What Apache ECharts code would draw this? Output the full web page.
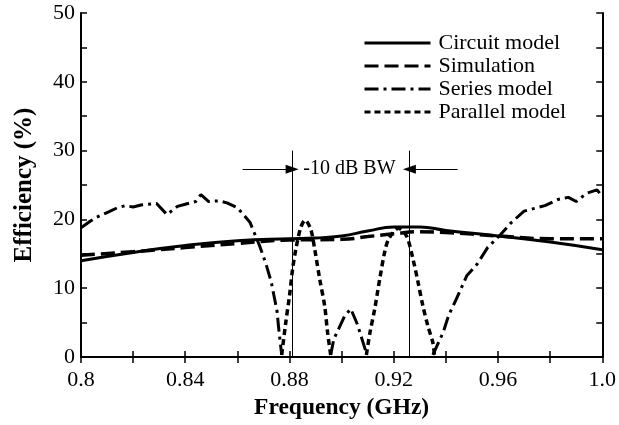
<!DOCTYPE html>
<html>
<head>
<meta charset="utf-8">
<script src="https://cdn.jsdelivr.net/npm/echarts@6/dist/echarts.min.js"></script>
<style>html,body{margin:0;padding:0;background:#fff}#c{width:619px;height:425px}</style>
</head>
<body>
<div id="c"></div>
<script>
// ---- data ----
const seriesNames = ['Circuit model', 'Simulation', 'Series model', 'Parallel model'];

const circuitFreq = [0.80, 0.82, 0.84, 0.86, 0.88, 0.89, 0.90, 0.91, 0.92, 0.93, 0.94, 0.96, 0.98, 1.00];
const circuitEff  = [14.0, 15.2, 16.2, 16.9, 17.2, 17.3, 17.6, 18.3, 18.9, 18.9, 18.4, 17.6, 16.7, 15.6];

const simFreq = [0.80, 0.82, 0.84, 0.86, 0.88, 0.90, 0.91, 0.92, 0.93, 0.94, 0.96, 0.98, 1.00];
const simEff  = [14.8, 15.3, 15.9, 16.5, 17.0, 17.1, 17.5, 17.9, 18.2, 18.1, 17.6, 17.2, 17.2];

const seriesFreq = [0.800, 0.803, 0.806, 0.810, 0.814, 0.817, 0.820, 0.823, 0.829, 0.833, 0.837, 0.840,
  0.844, 0.846, 0.849, 0.853, 0.856, 0.860, 0.8648, 0.8686, 0.871, 0.873, 0.8752, 0.8759, 0.877,
  0.886,
  0.8958, 0.897, 0.9012, 0.9035, 0.906, 0.9097,
  0.922,
  0.935, 0.939, 0.941, 0.944, 0.948, 0.952, 0.956, 0.961, 0.965, 0.970, 0.974, 0.978, 0.983, 0.987,
  0.990, 0.994, 0.998, 1.000];
const seriesEff = [18.8, 19.6, 20.3, 21.0, 21.7, 22.0, 21.8, 22.1, 22.3, 20.7, 21.9, 22.2,
  22.6, 23.6, 22.6, 22.7, 22.4, 21.7, 19.6, 16.1, 13.5, 10.9, 6.7, 4.0, 0.3,
  null,
  0.3, 2.6, 6.0, 7.0, 4.8, 0.3,
  null,
  0.3, 3.6, 6.0, 8.4, 11.8, 13.5, 15.9, 17.8, 19.5, 21.2, 21.6, 22.0, 22.9, 23.2,
  22.6, 23.8, 24.3, 23.3];

const parFreq = [0.8770, 0.8786, 0.8800, 0.8812, 0.8824, 0.8843, 0.8860, 0.8882, 0.8897, 0.8916, 0.8935, 0.8946, 0.8958,
  0.903,
  0.9095, 0.9109, 0.9127, 0.9146, 0.9165, 0.9180, 0.9218, 0.9249, 0.9274, 0.9293, 0.9312, 0.9331, 0.9350, 0.9356];
const parEff = [0.3, 5.1, 8.9, 12.8, 15.6, 18.8, 19.9, 18.5, 15.6, 11.3, 7.4, 3.6, 0.3,
  null,
  0.3, 3.6, 7.0, 11.3, 15.2, 17.1, 18.7, 17.6, 14.2, 10.9, 7.4, 4.5, 2.1, 0.3];

const xTickLabels = ['0.8', '0.84', '0.88', '0.92', '0.96', '1.0'];
const yTickLabels = ['0', '10', '20', '30', '40', '50'];

// -10 dB bandwidth annotation (data coordinates)
const bwEdges = [0.881, 0.926];
const bwLineTop = 30;
const bwArrowY = 27.3;
const bwArrowStart = [0.862, 0.9445];
const bwLabel = '-10 dB BW';
const bwLabelPos = [0.9030, 27.4];

// ---- chart ----
function pairs(xs, ys) { return xs.map((x, i) => [x, ys[i] === null ? '-' : ys[i]]); }

const serif = 'Liberation Serif';
const chart = echarts.init(document.getElementById('c'), null, { renderer: 'canvas' });

const axisLine = { show: true, lineStyle: { color: '#000', width: 2 } };
const axisTick = { show: true, inside: true, length: 6, lineStyle: { color: '#000', width: 1.5 } };

const option = {
  animation: false,
  backgroundColor: '#fff',
  grid: { left: 81, right: 11, top: 13, bottom: 67, containLabel: false },
  legend: {
    orient: 'vertical',
    left: 363, top: 32, padding: 0,
    itemWidth: 66, itemHeight: 14, itemGap: 1,
    itemStyle: { opacity: 0 },
    lineStyle: { width: 3 },
    textStyle: { fontFamily: serif, fontSize: 22, color: '#000', lineHeight: 22, padding: [0, 0, 0, 3] },
    data: seriesNames.map(n => ({ name: n }))
  },
  xAxis: [{
    type: 'value', min: 0.8, max: 1.0, interval: 0.02, position: 'bottom',
    axisLine, axisTick, splitLine: { show: false },
    axisLabel: {
      fontFamily: serif, fontSize: 22, color: '#000', margin: 12,
      formatter: v => {
        const k = Math.round((v - 0.8) / 0.04 * 1000) / 1000;
        return Number.isInteger(k) ? xTickLabels[k] : '';
      }
    },
    name: 'Frequency (GHz)', nameLocation: 'middle', nameGap: 39,
    nameTextStyle: { fontFamily: serif, fontSize: 23.5, fontWeight: 'bold', color: '#000' }
  }, {
    type: 'value', min: 0.8, max: 1.0, interval: 0.02, position: 'top',
    axisLine, axisTick, axisLabel: { show: false }, splitLine: { show: false }
  }],
  yAxis: [{
    type: 'value', min: 0, max: 50, interval: 5, position: 'left',
    axisLine, axisTick, splitLine: { show: false },
    axisLabel: {
      fontFamily: serif, fontSize: 22, color: '#000', margin: 6,
      formatter: v => (Math.round(v) % 10 === 0 ? yTickLabels[Math.round(v) / 10] : '')
    },
    name: 'Efficiency (%)', nameLocation: 'middle', nameGap: 44,
    nameTextStyle: { fontFamily: serif, fontSize: 25, fontWeight: 'bold', color: '#000' }
  }, {
    type: 'value', min: 0, max: 50, interval: 5, position: 'right',
    axisLine, axisTick, axisLabel: { show: false }, splitLine: { show: false }
  }],
  series: [
    {
      name: seriesNames[0], type: 'line', smooth: true, symbol: 'none',
      data: pairs(circuitFreq, circuitEff),
      lineStyle: { color: '#000', width: 3 }, itemStyle: { color: '#000' }, z: 4,
      markLine: {
        silent: true, symbol: ['none', 'none'], animation: false,
        label: { show: false },
        lineStyle: { color: '#000', width: 1, type: 'solid' },
        data: [
          [{ coord: [bwEdges[0], 0] }, { coord: [bwEdges[0], bwLineTop] }],
          [{ coord: [bwEdges[1], 0] }, { coord: [bwEdges[1], bwLineTop] }],
          [{ coord: [bwArrowStart[0], bwArrowY], symbol: 'none' }, { coord: [bwEdges[0], bwArrowY], symbol: 'triangle', symbolSize: [9, 13], symbolRotate: -90 }],
          [{ coord: [bwArrowStart[1], bwArrowY], symbol: 'none' }, { coord: [bwEdges[1], bwArrowY], symbol: 'triangle', symbolSize: [9, 13], symbolRotate: 90 }]
        ]
      },
      markPoint: {
        silent: true, symbol: 'circle', symbolSize: 0,
        label: { show: true, position: 'inside', formatter: bwLabel, fontFamily: serif, fontSize: 20, color: '#000' },
        data: [{ coord: bwLabelPos }]
      }
    },
    {
      name: seriesNames[1], type: 'line', smooth: true, symbol: 'none',
      data: pairs(simFreq, simEff),
      lineStyle: { color: '#000', width: 3.5, type: [14, 6] }, itemStyle: { color: '#000' }, z: 3
    },
    {
      name: seriesNames[2], type: 'line', smooth: false, symbol: 'none', connectNulls: false,
      data: pairs(seriesFreq, seriesEff),
      lineStyle: { color: '#000', width: 3, type: [14, 5, 3, 5] }, itemStyle: { color: '#000' }, z: 2
    },
    {
      name: seriesNames[3], type: 'line', smooth: 0.3, symbol: 'none', connectNulls: false,
      data: pairs(parFreq, parEff),
      lineStyle: { color: '#000', width: 3.5, type: [6, 4] }, itemStyle: { color: '#000' }, z: 2
    }
  ]
};
chart.setOption(option);
</script>
</body>
</html>
